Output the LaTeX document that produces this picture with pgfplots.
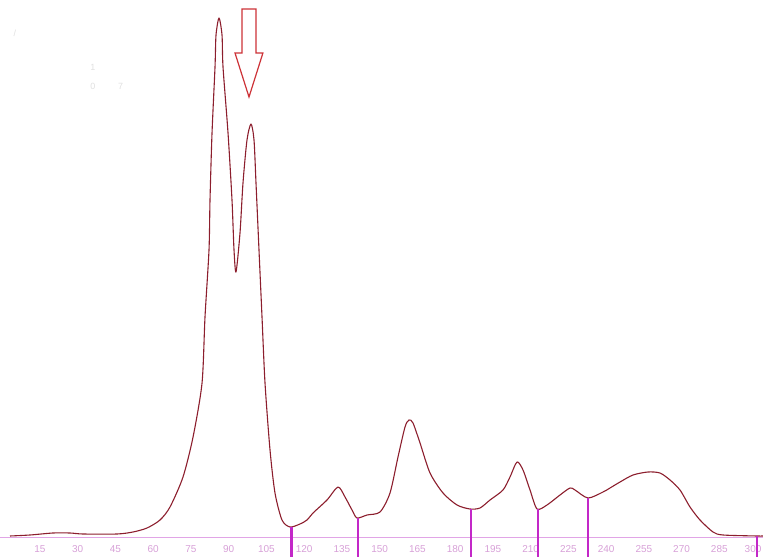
\documentclass[border=0pt]{standalone}
\usepackage{pgfplots}
\pgfplotsset{compat=1.18}
\usepackage{fontspec}
\setmainfont{Liberation Sans}
\definecolor{curve}{RGB}{140,30,45}
\definecolor{divider}{RGB}{195,40,200}
\definecolor{baseln}{RGB}{225,165,230}
\definecolor{ticklab}{RGB}{215,160,215}
\definecolor{arrowc}{RGB}{205,50,55}
\begin{document}
\begin{tikzpicture}
\begin{axis}[
  set layers,
  scale only axis,
  width=763pt, height=557pt,
  xmin=-0.898, xmax=302.36,
  ymin=-20, ymax=537,
  axis x line*=middle,
  axis y line=none,
  axis line style={draw=baseln, line width=0.8pt},
  xtick={15,30,...,285},
  extra x ticks={300},
  extra x tick style={xticklabel style={xshift=-4pt}},
  major tick length=0pt,
  xticklabel style={font=\fontsize{10}{12}\selectfont, text=ticklab, anchor=center, yshift=-12pt},
  /pgf/number format/assume math mode=true,
  clip=true,
]
\addplot[curve, line width=1.1pt, line join=round, smooth, tension=0.45] coordinates {
(3.08,1) (11.03,2) (20.17,4) (26.92,4) (32.10,3) (45.60,3) (51.96,5) (57.53,9)
(62.70,17) (66.67,30) (71.84,60) (75.83,100) (79.40,154) (80.58,220) (82.17,287)
(82.57,337) (83.37,404) (84.56,470) (84.96,502) (86.15,519) (87.34,502) (87.74,470)
(89.73,404) (91.31,337) (92.11,287) (92.91,265) (94.49,304) (95.68,354) (97.27,397)
(98.86,413) (100.06,397) (100.85,354) (102.04,287) (103.24,220) (104.43,154)
(106.42,87) (108.40,44) (111.18,17) (114.36,10) (118.34,13) (121.12,17) (123.51,24)
(129.07,37) (133.45,50) (136.23,40) (139.01,27) (141.0,19) (144.97,22) (150.14,25)
(154.11,44) (157.29,80) (160.07,110) (161.66,117) (163.25,114) (166.04,94)
(170.01,64) (175.18,44) (180.74,32) (185.91,28) (189.88,29) (193.86,37) (199.02,47)
(201.80,60) (204.59,75) (206.97,67) (209.76,47) (212.54,28) (216.51,32) (221.68,42)
(225.65,49) (227.64,47) (232.81,39) (238.77,45) (241.55,49) (245.53,55) (250.69,62)
(256.65,65) (261.42,64) (265.40,57) (269.37,47) (273.35,30) (277.32,17) (282.49,5)
(286.46,2) (300.0,1) (302.4,1)
};
\addplot[divider, line width=2.8pt] coordinates {(114.8,10) (114.8,-20)};
\addplot[divider, line width=2.8pt] coordinates {(141.4,19) (141.4,-20)};
\addplot[divider, line width=2.8pt] coordinates {(186.3,28) (186.3,-20)};
\addplot[divider, line width=2.8pt] coordinates {(212.9,28) (212.9,-20)};
\addplot[divider, line width=2.8pt] coordinates {(232.8,39) (232.8,-20)};
\addplot[divider, line width=2.8pt] coordinates {(300.0,1) (300.0,-20)};
\draw[arrowc, line width=1.2pt, fill=white, line join=miter]
  (axis cs:95.3,528) -- (axis cs:100.85,528) -- (axis cs:100.85,484) -- (axis cs:103.6,484)
  -- (axis cs:98.07,440) -- (axis cs:92.5,484) -- (axis cs:95.3,484) -- cycle;
\node[text=black!12, font=\fontsize{9}{10}\selectfont] at (axis cs:36,470) {1};
\node[text=black!12, font=\fontsize{9}{10}\selectfont] at (axis cs:36,451) {0};
\node[text=black!12, font=\fontsize{9}{10}\selectfont] at (axis cs:47,451) {7};
\node[text=black!12, font=\fontsize{9}{10}\selectfont] at (axis cs:5,504) {/};
\end{axis}
\pgfresetboundingbox
\useasboundingbox (current axis.south west) rectangle (current axis.north east);
\end{tikzpicture}
\end{document}
